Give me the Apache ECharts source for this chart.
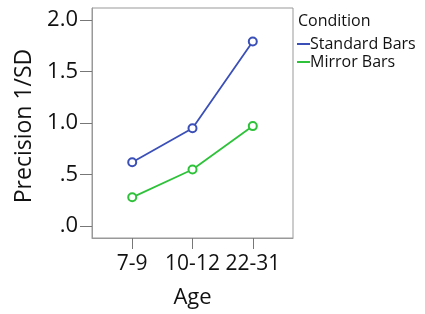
<!DOCTYPE html>
<html><head><meta charset="utf-8">
<script src="https://cdn.jsdelivr.net/npm/echarts@6/dist/echarts.min.js"></script>
<style>html,body{margin:0;padding:0;background:#fff}#c{width:425px;height:314px}</style>
</head><body><div id="c"></div>
<script>
const categories = ['7-9', '10-12', '22-31'];
const standardBars = [0.62, 0.95, 1.79];
const mirrorBars = [0.28, 0.55, 0.97];
const yTickValues = [0, 0.5, 1.0, 1.5, 2.0];
const yTickLabels = ['.0', '.5', '1.0', '1.5', '2.0'];
const seriesNames = ['Standard Bars', 'Mirror Bars'];

const FONT = 'Open Sans';
const chart = echarts.init(document.getElementById('c'), null, {renderer: 'canvas'});
const toPts = arr => arr.map((v, i) => [i, v]);
chart.setOption({
  animation: false,
  textStyle: {fontFamily: FONT},
  title: {text: 'Condition', left: 298, top: 13, padding: 0, textStyle: {fontFamily: FONT, fontSize: 16, fontWeight: 'normal', color: '#111'}},
  legend: {
    data: seriesNames, orient: 'vertical', left: 297, top: 35, padding: 0, itemGap: 0,
    itemWidth: 13, itemHeight: 2, icon: 'rect',
    textStyle: {fontFamily: FONT, fontSize: 16, color: '#111', lineHeight: 18, padding: [0, 0, 0, -5]}
  },
  grid: {left: 92, top: 8, right: 132, bottom: 72, show: true, borderColor: '#999', borderWidth: 1},
  xAxis: {
    type: 'value', min: -0.667, max: 2.667,
    name: 'Age', nameLocation: 'middle', nameGap: 49, nameMoveOverlap: false,
    nameTextStyle: {fontFamily: FONT, fontSize: 22, color: '#111'},
    axisLine: {show: true, onZero: false, lineStyle: {color: '#999'}},
    axisTick: {show: true, customValues: [0, 1, 2], length: 11, inside: false, lineStyle: {color: '#777'}},
    axisLabel: {customValues: [0, 1, 2], formatter: v => categories[Math.round(v)], fontFamily: FONT, fontSize: 21, color: '#111', margin: 16},
    splitLine: {show: false}
  },
  yAxis: {
    type: 'value', min: -0.114, max: 2.114,
    name: 'Precision 1/SD', nameLocation: 'middle', nameGap: 56, nameMoveOverlap: false,
    nameTextStyle: {fontFamily: FONT, fontSize: 23, color: '#111', padding: [0, 6, 0, 0]},
    axisLine: {show: true, onZero: false, lineStyle: {color: '#999'}},
    axisTick: {show: true, inside: false, customValues: yTickValues, length: 12, lineStyle: {color: '#777', width: 1}},
    axisLabel: {customValues: yTickValues, formatter: v => yTickLabels[yTickValues.findIndex(t => Math.abs(t - v) < 1e-6)], fontFamily: FONT, fontSize: 22, color: '#111', margin: 14},
    splitLine: {show: false}
  },
  series: [
    {name: seriesNames[0], type: 'line', data: toPts(standardBars), color: '#3a4fb8',
     lineStyle: {width: 1.8}, symbol: 'emptyCircle', symbolSize: 8, itemStyle: {borderWidth: 1.6}},
    {name: seriesNames[1], type: 'line', data: toPts(mirrorBars), color: '#2ec23a',
     lineStyle: {width: 1.8}, symbol: 'emptyCircle', symbolSize: 8, itemStyle: {borderWidth: 1.6}}
  ]
});
</script></body></html>
